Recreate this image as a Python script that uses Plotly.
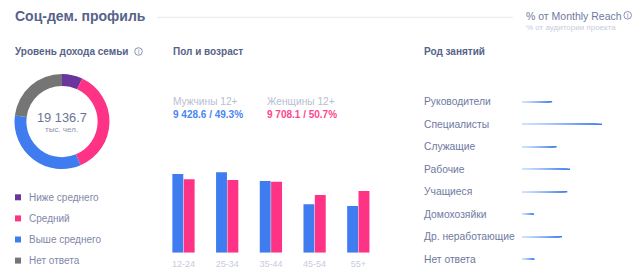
import plotly.graph_objects as go

W, H = 643, 279
BLUE, PINK, PURPLE, GRAY = "#3f7cf0", "#ff3385", "#6a359c", "#757575"
DARK, MID, LIGHT, PALE = "#566389", "#6f799f", "#b8bed3", "#c8ccdc"
FONT = "Liberation Sans"

income_labels = ["Ниже среднего", "Средний", "Выше среднего", "Нет ответа"]
income_values = [7.0, 36.6, 33.4, 23.0]
income_colors = [PURPLE, PINK, BLUE, GRAY]

age_groups = ["12-24", "25-34", "35-44", "45-54", "55+"]
men_values = [78.7, 80.4, 71.7, 48.4, 46.7]
women_values = [73.4, 72.7, 71.0, 57.7, 61.7]

occupations = ["Руководители", "Специалисты", "Служащие", "Рабочие",
               "Учащиеся", "Домохозяйки", "Др. неработающие", "Нет ответа"]
occupation_values = [11.3, 30.0, 13.0, 18.0, 17.0, 4.5, 15.0, 4.7]


def px(x):
    return x / W


def py(y):
    return 1 - y / H


def mix(t):
    a, b = (212, 227, 253), (63, 124, 240)
    return "rgb(%d,%d,%d)" % tuple(round(a[i] + (b[i] - a[i]) * t) for i in range(3))


fig = go.Figure()

# Income donut
fig.add_trace(go.Pie(
    labels=income_labels, values=income_values, hole=0.75, sort=False,
    direction="clockwise", rotation=0, textinfo="none", hoverinfo="label+percent",
    marker=dict(colors=income_colors, line=dict(width=0)),
    domain=dict(x=[px(14.5), px(109.5)], y=[py(169), py(74)]), showlegend=False,
))

# Sex and age bars
fig.add_trace(go.Bar(x=age_groups, y=men_values, marker=dict(color=BLUE, line=dict(width=0)),
                     xaxis="x", yaxis="y", showlegend=False))
fig.add_trace(go.Bar(x=age_groups, y=women_values, marker=dict(color=PINK, line=dict(width=0)),
                     xaxis="x", yaxis="y", showlegend=False))

# Occupation bars with a gradient: shorter, paler copies are drawn over each full bar
STEPS = 24
for i in range(STEPS, 0, -1):
    f = i / STEPS
    xs, ys = [], []
    for name, value in zip(occupations, occupation_values):
        xs += [0, value * f, None]
        ys += [name, name, None]
    fig.add_trace(go.Scatter(
        x=xs, y=ys, mode="lines", line=dict(color=mix(f ** 1.4), width=1.5),
        xaxis="x2", yaxis="y2", showlegend=False,
    ))

annotations = []


def label(x, y, text, size, color, bold=False, anchor="left"):
    annotations.append(dict(
        x=px(x), y=py(y), xref="paper", yref="paper", text=f"<b>{text}</b>" if bold else text,
        showarrow=False, xanchor=anchor, yanchor="middle", align=anchor,
        font=dict(family=FONT, size=size, color=color), borderpad=0, borderwidth=0,
    ))


label(15, 16.5, "Соц-дем. профиль", 14, DARK, True)
label(15, 51, "Уровень дохода семьи", 10, DARK, True)
label(172.5, 51, "Пол и возраст", 10, DARK, True)
label(423.5, 51, "Род занятий", 10, DARK, True)
label(526, 16, "% от Monthly Reach", 10.5, MID)
label(526, 27, "% от аудитории проекта", 8, PALE)
label(172.5, 101, "Мужчины 12+", 10.2, LIGHT)
label(172.5, 114, "9 428.6 / 49.3%", 10, "#4a86f2", True)
label(266.5, 101, "Женщины 12+", 10.2, LIGHT)
label(266.5, 114, "9 708.1 / 50.7%", 10, "#ff4590", True)
label(62, 117, "19 136.7", 12.8, "#6a7492", anchor="center")
label(62, 129.5, "тыс. чел.", 8, "#8b93ad", anchor="center")

for i, name in enumerate(income_labels):
    label(29, 197 + 21.1 * i, name, 10, "#7f88a8")
for i, name in enumerate(occupations):
    label(423.5, 101.7 + 22.5 * i, name, 10.3, MID)

shapes = [dict(type="line", xref="paper", yref="paper", x0=px(157), x1=px(512.7), y0=py(17.3), y1=py(17.3),
               line=dict(color="#e4e6f0", width=1))]
for i, color in enumerate(income_colors):
    yc = 197.3 + 21.1 * i
    shapes.append(dict(type="rect", xref="paper", yref="paper", x0=px(15), x1=px(21), y0=py(yc + 3), y1=py(yc - 3),
                       fillcolor=color, line=dict(width=0)))
for cx, cy in [(138.5, 51.5), (627.7, 15.3)]:
    shapes.append(dict(type="circle", xref="paper", yref="paper", x0=px(cx - 3.8), x1=px(cx + 3.8),
                       y0=py(cy + 3.8), y1=py(cy - 3.8), line=dict(color=MID, width=0.8)))
    label(cx, cy, "i", 6.5, MID, anchor="center")

fig.update_layout(
    width=W, height=H, autosize=False, margin=dict(l=0, r=0, t=0, b=0),
    paper_bgcolor="white", plot_bgcolor="white",
    barmode="group", bargap=0.48, bargroupgap=0.04,
    annotations=annotations, shapes=shapes,
    xaxis=dict(domain=[px(161.65), px(380.15)], range=[-0.5, 4.5], type="category", anchor="y",
               showgrid=False, showline=False, zeroline=False, ticks="outside", ticklen=2, tickcolor="white",
               tickfont=dict(family=FONT, size=9, color=PALE)),
    yaxis=dict(domain=[py(252.7), py(160)], range=[0, 92.7], showgrid=False, showline=False,
               zeroline=False, showticklabels=False, anchor="x"),
    xaxis2=dict(domain=[px(522), px(602)], range=[0, 30], showgrid=False, showline=False,
                zeroline=False, showticklabels=False, anchor="y2"),
    yaxis2=dict(domain=[py(270.45), py(90.45)], type="category", categoryorder="array",
                categoryarray=occupations, range=[7.5, -0.5], showgrid=False, showline=False,
                zeroline=False, showticklabels=False, anchor="x2"),
    hovermode=False,
)
fig.write_html("out.html", config=dict(displayModeBar=False),
               post_script="document.body.style.margin='0';document.documentElement.style.overflow='hidden';")
